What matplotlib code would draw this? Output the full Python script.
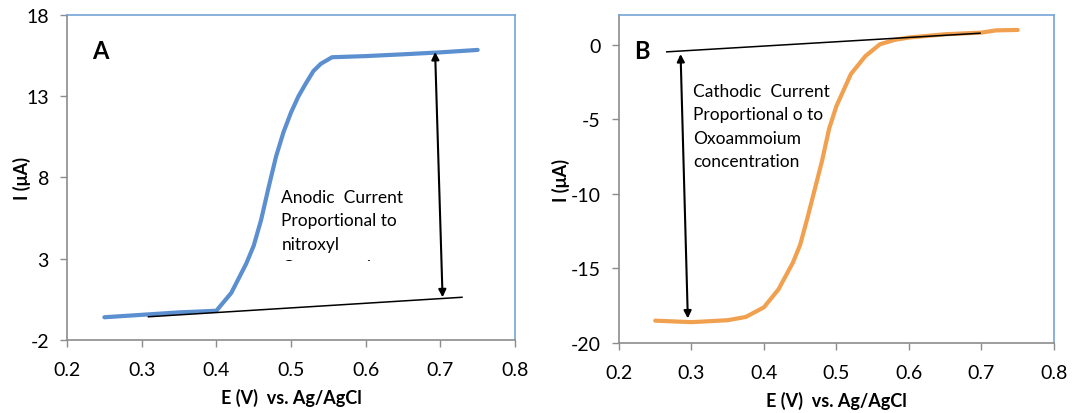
import matplotlib
matplotlib.use("Agg")
import matplotlib.pyplot as plt
from matplotlib.patches import Rectangle

plt.rcParams["font.family"] = ["Lato", "DejaVu Sans"]

# panel A: anodic wave (nitroxyl -> oxoammonium)
e_a = [0.25, 0.30, 0.35, 0.40, 0.42, 0.44, 0.45, 0.46, 0.47, 0.48, 0.49,
       0.50, 0.51, 0.52, 0.53, 0.54, 0.555, 0.60, 0.65, 0.70, 0.75]
i_a = [-0.6, -0.45, -0.3, -0.2, 0.9, 2.7, 3.8, 5.4, 7.4, 9.3, 10.8,
       12.0, 13.0, 13.8, 14.55, 15.0, 15.4, 15.47, 15.58, 15.7, 15.85]
base_a_x = [0.309, 0.729]
base_a_y = [-0.57, 0.63]

# panel B: cathodic wave (oxoammonium -> nitroxyl)
e_b = [0.25, 0.30, 0.35, 0.375, 0.40, 0.42, 0.44, 0.45, 0.46, 0.47, 0.48,
       0.49, 0.50, 0.52, 0.54, 0.56, 0.58, 0.60, 0.65, 0.70, 0.72, 0.75]
i_b = [-18.5, -18.6, -18.47, -18.25, -17.6, -16.4, -14.6, -13.4, -11.6, -9.7, -7.8,
       -5.6, -4.1, -1.95, -0.75, 0.04, 0.33, 0.49, 0.71, 0.82, 0.97, 1.0]
base_b_x = [0.266, 0.698]
base_b_y = [-0.47, 0.78]

blue = "#5b8fcf"
orange = "#f0a04e"
grey = "#8c8c8c"
frame = "#74a4d8"

fig = plt.figure(figsize=(10.92, 4.14), dpi=100)
ax1 = fig.add_axes([0.0614, 0.1763, 0.4102, 0.7851])
ax2 = fig.add_axes([0.5668, 0.1690, 0.3984, 0.7923])


def style(ax, ylim, yticks):
    ax.set_xlim(0.2, 0.8)
    ax.set_ylim(*ylim)
    ax.set_xticks([0.2, 0.3, 0.4, 0.5, 0.6, 0.7, 0.8])
    ax.set_xticklabels(["0.2", "0.3", "0.4", "0.5", "0.6", "0.7", "0.8"])
    ax.set_yticks(yticks)
    ax.set_yticklabels([str(t) for t in yticks])
    for s in ["left", "bottom"]:
        ax.spines[s].set_color(grey)
        ax.spines[s].set_linewidth(1.2)
    for s in ["top", "right"]:
        ax.spines[s].set_color(frame)
        ax.spines[s].set_linewidth(1.2)
    ax.tick_params(direction="out", length=5, width=1, color=grey, labelsize=14)
    ax.tick_params(axis="x", pad=10)
    ax.tick_params(axis="y", pad=8)
    ax.set_xlabel("E (V)  vs. Ag/AgCl", fontsize=13, fontweight="bold", labelpad=7)
    ax.set_ylabel("I (μA)", fontsize=13, fontweight="bold")


style(ax1, (-2, 18), [-2, 3, 8, 13, 18])
style(ax2, (-20, 2), [-20, -15, -10, -5, 0])
ax1.yaxis.set_label_coords(-0.08, 0.5)
ax2.yaxis.set_label_coords(-0.112, 0.5)

# panel A
ax1.plot(e_a, i_a, color=blue, lw=3.0, solid_capstyle="round")
ax1.plot(base_a_x, base_a_y, color="black", lw=1.1)
ax1.annotate("", xy=(0.693, 15.72), xytext=(0.703, 0.63),
             arrowprops=dict(arrowstyle="<|-|>", color="black", lw=1.5,
                             mutation_scale=11, shrinkA=0, shrinkB=0))
ax1.text(0.245, 15.8, "A", fontsize=17, fontweight="bold", va="center", ha="center")
# the text box in the original cuts off the last line
txt = ax1.text(0.487, 7.3, "Anodic  Current\nProportional to\nnitroxyl\nConcentration",
               fontsize=12.5, va="top", ha="left", linespacing=1.58, clip_on=True)
clip = Rectangle((0.45, 2.88), 0.3, 8, transform=ax1.transData)
txt.set_clip_path(clip)

# panel B
ax2.plot(e_b, i_b, color=orange, lw=3.0, solid_capstyle="round")
ax2.plot(base_b_x, base_b_y, color="black", lw=1.1)
ax2.annotate("", xy=(0.285, -0.62), xytext=(0.295, -18.35),
             arrowprops=dict(arrowstyle="<|-|>", color="black", lw=1.5,
                             mutation_scale=11, shrinkA=0, shrinkB=0))
ax2.text(0.232, -0.4, "B", fontsize=17, fontweight="bold", va="center", ha="center")
ax2.text(0.302, -2.55, "Cathodic  Current\nProportional o to\nOxoammoium\nconcentration",
         fontsize=12.5, va="top", ha="left", linespacing=1.58)

fig.savefig("out.png", dpi=100)
